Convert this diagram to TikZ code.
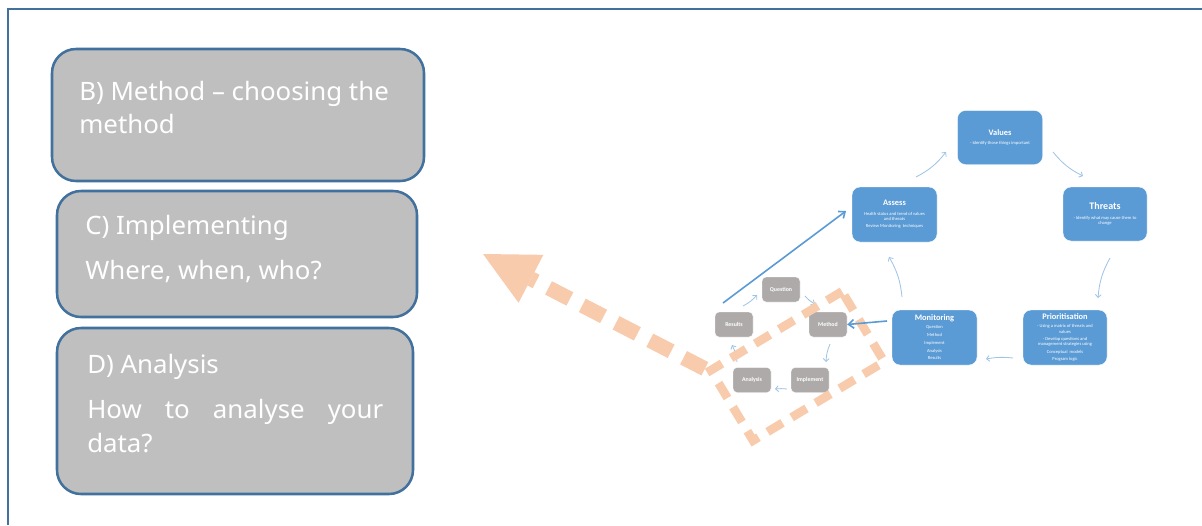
\documentclass[tikz,border=0pt]{standalone}
\usepackage{fontspec}
\setmainfont[FakeStretch=1.02]{Noto Sans}
\newfontfamily\calfont{Carlito}
\usetikzlibrary{arrows.meta,calc}

\definecolor{frameblue}{HTML}{41719C}
\definecolor{panelgray}{HTML}{BFBFBF}
\definecolor{cycleblue}{HTML}{5B9BD5}
\definecolor{stepgray}{HTML}{AEAAAA}
\definecolor{peach}{HTML}{F8CBAD}
\definecolor{paleblue}{HTML}{9DC3E6}

% title and body sizes inside the cycle boxes
\newcommand{\cyctitle}{\fontsize{6.3}{7}\selectfont\bfseries}
\newcommand{\cycbody}{\fontsize{3.4}{4}\selectfont}

\begin{document}
\begin{tikzpicture}[x=0.75pt,y=-0.75pt,
  sz/.style 2 args={minimum width=#1*0.75pt,minimum height=#2*0.75pt},
  stagebox/.style={draw=frameblue,line width=1.9pt,fill=panelgray,rounded corners=18pt,inner sep=0pt},
  stagetext/.style={anchor=base west,inner sep=0pt,text=white,font=\fontsize{19}{23}\selectfont},
  cyclebox/.style={fill=cycleblue,draw=white,line width=0.3pt,rounded corners=6pt,text=white,
    align=center,inner sep=1pt,font=\calfont\cycbody},
  stepbox/.style={fill=stepgray,draw=white,line width=0.3pt,rounded corners=3pt,text=white,
    inner sep=0pt,sz={38}{25},font=\calfont\bfseries\fontsize{4.4}{5}\selectfont},
  thinarrow/.style={draw=paleblue,line width=0.6pt,-{Straight Barb[length=2.2pt,width=4.4pt]}},
  bluearrow/.style={draw=cycleblue,line width=1.2pt,-{Straight Barb[length=4pt,width=6.5pt]}},
  focusframe/.style={draw=peach,line width=6.5pt,dash pattern=on 13pt off 8pt,inner sep=0pt},
  bigarrow/.style={draw=peach,line width=11.25pt,dash pattern=on 18pt off 10.5pt,
    -{Triangle[length=40.5pt,width=40.5pt,line width=0pt]}}
]
\useasboundingbox (0,0) rectangle (1202,525);
\fill[white] (0,0) rectangle (1202,525);

% outer frame (only its top and left edges fall on the page)
\draw[frameblue,line width=1.9pt] (1202,9) -- (8,9) -- (8,525);

% stage panels on the left
\node[stagebox,sz={372}{132}] (boxB) at (238,115) {};
\node[stagetext] (textB1) at (79,100) {B) Method – choosing the};
\node[stagetext] (textB2) at (79,133) {method};

\node[stagebox,sz={360}{126}] (boxC) at (237,254) {};
\node[stagetext] (textC1) at (85,234) {C) Implementing};
\node[stagetext] (textC2) at (85,279) {Where, when, who?};

\node[stagebox,sz={356}{166}] (boxD) at (235,411) {};
\node[stagetext] (textD1) at (87,373) {D) Analysis};
\node[stagetext] (textD2) at (87,418) {\makebox[296\dimexpr 0.75pt\relax][s]{How to analyse your}};
\node[stagetext] (textD3) at (87,452) {data?};

% management cycle
\node[cyclebox,sz={85}{54}] (values) at (1000,137.5)
  {\cyctitle Values\\[3pt]- Identify those things important};
\node[cyclebox,sz={84}{54}] (threats) at (1105,214)
  {\fontsize{7.5}{8}\selectfont\bfseries Threats\\[3pt]- Identify what may cause them to\\change};
\node[cyclebox,sz={85}{55}] (assess) at (894.5,214.5)
  {\cyctitle Assess\\[3pt]Health status and trend of values\\and threats\\[1.5pt]Review Monitoring\ \ techniques};
\node[cyclebox,sz={85}{55}] (monitoring) at (934.5,337.5)
  {\cyctitle Monitoring\\[2pt]Question\\[1.8pt]Method\\[1.8pt]Implement\\[1.8pt]Analysis\\[1.8pt]Results};
\node[cyclebox,sz={84}{55}] (prior) at (1065,337.5)
  {\cyctitle Prioritisation\\[2pt]- Using a matrix of threats and\\values\\[1.5pt]- Develop questions and\\management strategies using\\[1.5pt]Conceptual\ \ models\\[1.5pt]Program logic};

\coordinate (avA) at (916,177);  \coordinate (avB) at (946,152);
\coordinate (vtA) at (1053,152); \coordinate (vtB) at (1083,176);
\coordinate (tpA) at (1110,258); \coordinate (tpB) at (1098,298);
\coordinate (pmA) at (1013,358); \coordinate (pmB) at (986,359);
\coordinate (maA) at (902,297);  \coordinate (maB) at (889,257);
\draw[thinarrow] (avA) to[bend right=12] (avB);
\draw[thinarrow] (vtA) to[bend right=12] (vtB);
\draw[thinarrow] (tpA) to[bend right=12] (tpB);
\draw[thinarrow] (pmA) to[bend right=8] (pmB);
\draw[thinarrow] (maA) to[bend right=12] (maB);

% monitoring steps
\node[stepbox] (question) at (781,289.5) {Question};
\node[stepbox] (method) at (828,324.5) {Method};
\node[stepbox] (implement) at (810,380) {Implement};
\node[stepbox] (analysis) at (752,380) {Analysis};
\node[stepbox] (results) at (734,324.5) {Results};

\coordinate (rqA) at (743,306); \coordinate (rqB) at (757,295);
\coordinate (qmA) at (805,296); \coordinate (qmB) at (815,304);
\coordinate (miA) at (830,344); \coordinate (miB) at (826,362);
\coordinate (iaA) at (787,389); \coordinate (iaB) at (775,389);
\coordinate (arA) at (737,362); \coordinate (arB) at (732,345);
\draw[thinarrow] (rqA) to[bend right=10] (rqB);
\draw[thinarrow] (qmA) to[bend right=10] (qmB);
\draw[thinarrow] (miA) to[bend right=10] (miB);
\draw[thinarrow] (iaA) to[bend right=6] (iaB);
\draw[thinarrow] (arA) to[bend right=10] (arB);

% link from the results step up to assessment
\coordinate (upA) at (723,303); \coordinate (upB) at (846,211);
\draw[bluearrow] (upA) -- (upB);

% highlighted region and the pointer to the panels
\node[focusframe,sz={153}{82},rotate=31] (focus) at (797.5,366) {};
\coordinate (pointer) at (483,254);
\draw[bigarrow] (focus.north west) -- (pointer);

% monitoring feeds the method step
\coordinate (mmA) at (887,321);
\draw[bluearrow] (mmA) -- (method.east);
\end{tikzpicture}
\end{document}
